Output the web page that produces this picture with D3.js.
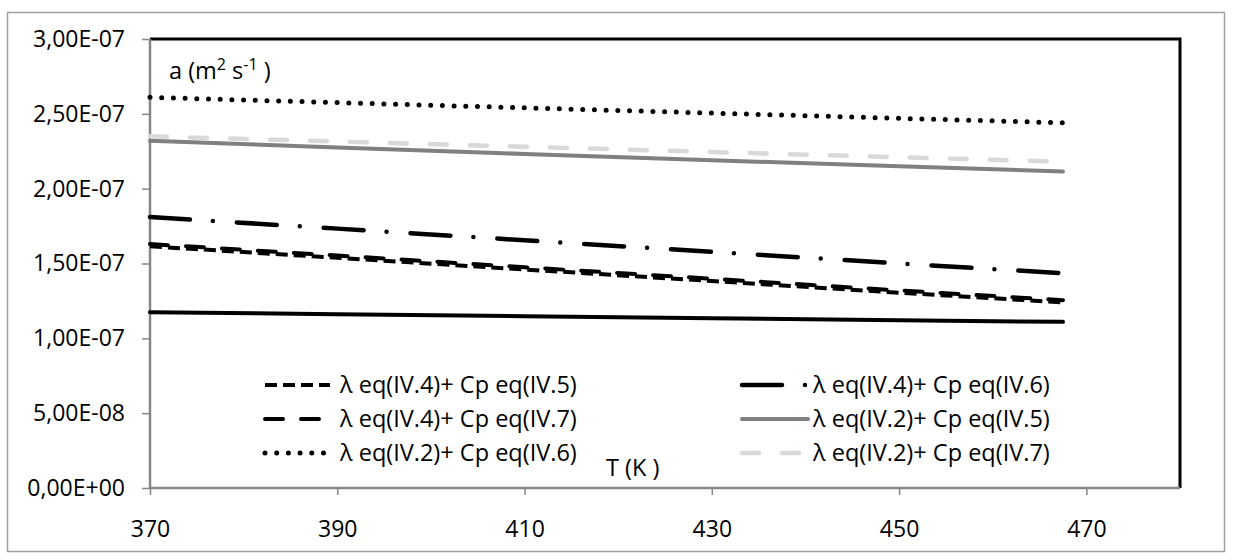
<!DOCTYPE html>
<html><head><meta charset="utf-8">
<script src="https://cdn.jsdelivr.net/npm/d3@7"></script>
<style>
html,body{margin:0;padding:0;background:#fff;}
svg text{font-family:"Open Sans",sans-serif;fill:#000;}
</style></head>
<body><svg id="c" width="1233" height="560"></svg>
<script>
// ---- data ----
const temps = [370, 390, 410, 430, 450, 467.5];
const sBlack   = [1.175e-7, 1.161e-7, 1.148e-7, 1.134e-7, 1.121e-7, 1.110e-7];
const s4_5     = [1.615e-7, 1.538e-7, 1.460e-7, 1.383e-7, 1.305e-7, 1.240e-7];
const s4_6     = [1.810e-7, 1.733e-7, 1.655e-7, 1.578e-7, 1.500e-7, 1.435e-7];
const s4_7     = [1.630e-7, 1.553e-7, 1.475e-7, 1.398e-7, 1.320e-7, 1.255e-7];
const s2_5     = [2.320e-7, 2.275e-7, 2.232e-7, 2.190e-7, 2.150e-7, 2.115e-7];
const s2_6     = [2.610e-7, 2.575e-7, 2.540e-7, 2.505e-7, 2.470e-7, 2.440e-7];
const s2_7     = [2.350e-7, 2.315e-7, 2.280e-7, 2.245e-7, 2.210e-7, 2.180e-7];
const seriesNames = ["λ eq(IV.4)+ Cp eq(IV.5)", "λ eq(IV.4)+ Cp eq(IV.6)",
                     "λ eq(IV.4)+ Cp eq(IV.7)", "λ eq(IV.2)+ Cp eq(IV.5)",
                     "λ eq(IV.2)+ Cp eq(IV.6)", "λ eq(IV.2)+ Cp eq(IV.7)"];
const yTicks = [0, 5e-8, 1e-7, 1.5e-7, 2e-7, 2.5e-7, 3e-7];
const yTickLabels = ["0,00E+00","5,00E-08","1,00E-07","1,50E-07","2,00E-07","2,50E-07","3,00E-07"];
const xTicks = [370, 390, 410, 430, 450, 470];
const xDomain = [370, 480];
const yDomain = [0, 3e-7];

// ---- styles ----
const styles = [
  {data: sBlack, color:"#000", w:4,   dash:null, cap:"round", legend:null},
  {data: s4_5,  color:"#000", w:4,   dash:"12,6", cap:"butt", legend:0},
  {data: s4_6,  color:"#000", w:4.5, dash:"40,23,0,24", cap:"round", legend:1},
  {data: s4_7,  color:"#000", w:4,   dash:"18,18", cap:"round", legend:2},
  {data: s2_5,  color:"#808080", w:4, dash:null, cap:"round", legend:3},
  {data: s2_6,  color:"#000", w:5,   dash:"0,11.7", cap:"round", legend:4},
  {data: s2_7,  color:"#d9d9d9", w:4.5, dash:"17,23", cap:"round", legend:5}
];

const FS = "23.5px";
const svg = d3.select("#c");
const L = 150, R = 1180, T = 39, B = 488;
const x = d3.scaleLinear().domain(xDomain).range([L, R]);
const y = d3.scaleLinear().domain(yDomain).range([B, T]);

// outer border
svg.append("rect").attr("x",7.5).attr("y",12.5).attr("width",1217).attr("height",539)
  .attr("fill","none").attr("stroke","#a0a0a0").attr("stroke-width",1.5);

// plot frame top/right black
svg.append("path").attr("d",`M${L},${T}H${R}V${B}`).attr("fill","none")
  .attr("stroke","#000").attr("stroke-width",3);

// axes
const yAxis = d3.axisLeft(y).tickValues(yTicks).tickSize(8).tickPadding(17)
  .tickFormat((d,i)=>yTickLabels[i]);
const gy = svg.append("g").attr("transform",`translate(${L},0)`).call(yAxis);
const xAxis = d3.axisBottom(x).tickValues(xTicks).tickSize(7).tickPadding(26).tickFormat(d3.format("d"));
const gx = svg.append("g").attr("transform",`translate(0,${B})`).call(xAxis);
[gx, gy].forEach(g=>{
  g.select(".domain").attr("stroke","#868686").attr("stroke-width",2.5);
  g.selectAll(".tick line").attr("stroke","#868686").attr("stroke-width",1.5);
  g.selectAll(".tick text").style("font-size","23px").style("font-family","'Open Sans',sans-serif").attr("fill","#000");
});
gx.select(".domain").attr("d",`M${L},0H${R}`);
gy.select(".domain").attr("d",`M0,${B}V${T}`);

// lines
const line = d3.line().x((d,i)=>x(temps[i])).y(d=>y(d));
styles.forEach(s=>{
  svg.append("path").attr("d", line(s.data)).attr("fill","none")
    .attr("stroke", s.color).attr("stroke-width", s.w)
    .attr("stroke-dasharray", s.dash).attr("stroke-linecap", s.cap)
    .attr("stroke-linejoin","round");
});

// y-axis label
const yl = svg.append("text").attr("x",169).attr("y",79).style("font-size",FS);
yl.append("tspan").text("a (m");
yl.append("tspan").text("2").attr("dy",-9).style("font-size","16px");
yl.append("tspan").text(" s").attr("dy",9);
yl.append("tspan").text("-1").attr("dy",-9).style("font-size","16px");
yl.append("tspan").text(" )").attr("dy",9);

// x-axis label
svg.append("text").attr("x",606).attr("y",476).style("font-size",FS).text("T (K )");

// legend
const legCols = [{x0:265, x1:330, tx:340}, {x0:742, x1:808, tx:813}];
const legRows = [385, 419, 453];
styles.filter(s=>s.legend!==null).forEach(s=>{
  const c = legCols[s.legend % 2], r = legRows[Math.floor(s.legend/2)];
  svg.append("line").attr("x1",c.x0).attr("x2",c.x1).attr("y1",r).attr("y2",r)
    .attr("stroke",s.color).attr("stroke-width",s.w)
    .attr("stroke-dasharray",s.dash).attr("stroke-linecap",s.cap);
  svg.append("text").attr("x",c.tx).attr("y",r+8).style("font-size",FS).text(seriesNames[s.legend]);
});
</script></body></html>
